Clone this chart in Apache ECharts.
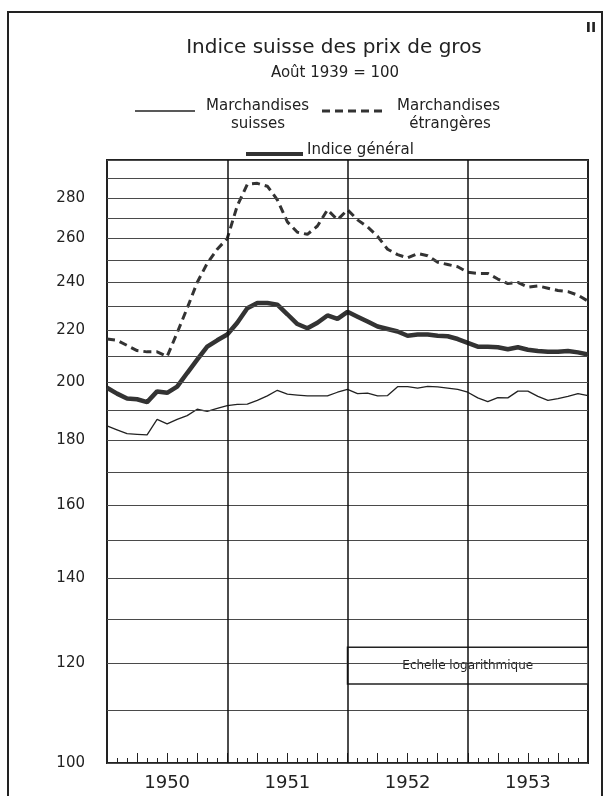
<!DOCTYPE html>
<html><head><meta charset="utf-8">
<script src="https://cdn.jsdelivr.net/npm/echarts@6/dist/echarts.min.js"></script>
<style>html,body{margin:0;padding:0;background:#fff;}#c{width:604px;height:796px;}</style>
</head><body><div id="c"></div>
<script>
// Month positions (end of Dec 1949 .. end of Dec 1953)
const months = ['1949-12','1950-01','1950-02','1950-03','1950-04','1950-05','1950-06','1950-07','1950-08','1950-09','1950-10','1950-11','1950-12',
  '1951-01','1951-02','1951-03','1951-04','1951-05','1951-06','1951-07','1951-08','1951-09','1951-10','1951-11','1951-12',
  '1952-01','1952-02','1952-03','1952-04','1952-05','1952-06','1952-07','1952-08','1952-09','1952-10','1952-11','1952-12',
  '1953-01','1953-02','1953-03','1953-04','1953-05','1953-06','1953-07','1953-08','1953-09','1953-10','1953-11','1953-12'];
const years = ['1950','1951','1952','1953'];

const suisses = [184.8,183.5,182.2,182.0,181.8,187.0,185.5,187.0,188.3,190.5,189.8,190.8,191.8,
  192.2,192.3,193.6,195.2,197.2,195.8,195.5,195.2,195.2,195.2,196.5,197.5,
  196.0,196.2,195.2,195.3,198.5,198.5,198.0,198.6,198.4,198.0,197.5,196.5,
  194.5,193.2,194.6,194.5,196.9,196.9,195.0,193.6,194.2,195.0,196.0,195.3];
const etrangeres = [216.5,216.0,214.0,212.0,211.5,211.5,209.7,219.0,229.0,240.0,248.5,255.0,260.0,
  276.0,287.0,287.5,286.0,279.0,268.0,263.0,262.0,266.0,274.0,269.0,274.0,
  269.0,265.6,261.0,255.0,252.5,251.0,253.0,252.0,249.0,248.0,247.0,244.5,
  244.0,244.0,241.5,239.5,240.0,238.0,238.5,237.5,236.5,236.0,234.5,232.0];
const general = [198.1,196.0,194.3,194.0,193.0,196.8,196.3,198.5,203.5,208.5,213.5,216.0,218.3,
  223.0,229.0,231.2,231.2,230.5,226.5,222.5,220.8,223.0,226.0,224.6,227.5,
  225.5,223.5,221.5,220.5,219.5,217.8,218.3,218.3,217.8,217.6,216.5,215.0,
  213.5,213.5,213.3,212.5,213.3,212.3,211.8,211.5,211.5,211.8,211.3,210.5];

const gridValues = [100,110,120,130,140,150,160,170,180,190,200,210,220,230,240,250,260,270,280,290,300];
const yTickLabels = [100,120,140,160,180,200,220,240,260,280];
const yearBoundaries = [12,24,36];

const FONT = 'DejaVu Sans';
const INK = '#222';

const toPairs = arr => arr.map((v, i) => [i, v]);

const gridLineData = gridValues.map(v => ({
  yAxis: v,
  lineStyle: {color: '#4a4a4a', width: 1, type: 'solid'},
  label: yTickLabels.includes(v)
    ? {show: true, position: 'start', distance: 22, formatter: String(v), color: INK, fontFamily: FONT, fontSize: 15}
    : {show: false}
}));
const yearLineData = yearBoundaries.map(x => ({
  xAxis: x, lineStyle: {color: '#111', width: 1.5, type: 'solid'}, label: {show: false}
}));

const chart = echarts.init(document.getElementById('c'), null, {renderer: 'canvas'});
chart.setOption({
  animation: false,
  backgroundColor: '#fff',
  grid: {left: 107, right: 16, top: 160, bottom: 33, show: true, borderColor: INK, borderWidth: 2, backgroundColor: 'transparent', containLabel: false, outerBoundsMode: 'none'},
  xAxis: {
    type: 'value', min: 0, max: 48, interval: 3,
    axisLine: {show: true, lineStyle: {color: INK, width: 2}},
    axisTick: {show: true, inside: true, length: 10, lineStyle: {color: INK, width: 1}},
    minorTick: {show: true, splitNumber: 3, length: 5, lineStyle: {color: INK, width: 1}},
    splitLine: {show: false},
    axisLabel: {
      show: true, margin: 11, color: INK, fontFamily: FONT, fontSize: 18,
      showMinLabel: true, showMaxLabel: true,
      formatter: v => (v % 12 === 6 ? years[(v - 6) / 12] : '')
    }
  },
  yAxis: {
    type: 'log', logBase: 10, min: 100, max: 300,
    axisLine: {show: false}, axisTick: {show: false}, axisLabel: {show: false}, splitLine: {show: false}
  },
  series: [
    {
      name: 'grid', type: 'line', data: [], z: 1, silent: true,
      markLine: {silent: true, symbol: ['none', 'none'], animation: false, data: gridLineData.concat(yearLineData)}
    },
    {
      name: 'Marchandises suisses', type: 'line', data: toPairs(suisses), z: 3,
      showSymbol: false, symbol: 'none', lineStyle: {color: INK, width: 1.3}
    },
    {
      name: 'Marchandises étrangères', type: 'line', data: toPairs(etrangeres), z: 3,
      showSymbol: false, symbol: 'none', lineStyle: {color: '#333', width: 3, type: [8, 5]}
    },
    {
      name: 'Indice général', type: 'line', data: toPairs(general), z: 3,
      showSymbol: false, symbol: 'none', lineStyle: {color: '#333', width: 4.5}
    },
    {
      name: 'box', type: 'line', data: [], z: 5, silent: true,
      markArea: {
        silent: true,
        itemStyle: {color: '#fff', borderColor: INK, borderWidth: 1.5},
        label: {show: true, position: 'inside', color: INK, fontFamily: FONT, fontSize: 12},
        data: [[{name: 'Echelle logarithmique', xAxis: 24, yAxis: 115.5}, {xAxis: 48, yAxis: 123.5}]]
      }
    }
  ],
  graphic: [
    {type: 'rect', shape: {x: 8, y: 12, width: 594, height: 800}, style: {fill: null, stroke: INK, lineWidth: 2}, silent: true},
    {type: 'text', x: 591, y: 28, style: {text: 'II', fontFamily: FONT, fontSize: 14, fontWeight: 'bold', fill: INK, textAlign: 'center', textVerticalAlign: 'middle'}},
    {type: 'text', x: 334, y: 48, style: {text: 'Indice suisse des prix de gros', fontFamily: FONT, fontSize: 20, fill: INK, textAlign: 'center', textVerticalAlign: 'middle'}},
    {type: 'text', x: 335, y: 73, style: {text: 'Août 1939 = 100', fontFamily: FONT, fontSize: 15, fill: INK, textAlign: 'center', textVerticalAlign: 'middle'}},
    {type: 'line', shape: {x1: 135, y1: 111, x2: 195, y2: 111}, style: {stroke: INK, lineWidth: 1.3}},
    {type: 'text', x: 206, y: 106, style: {text: 'Marchandises', fontFamily: FONT, fontSize: 15, fill: INK, textAlign: 'left', textVerticalAlign: 'middle'}},
    {type: 'text', x: 258, y: 124, style: {text: 'suisses', fontFamily: FONT, fontSize: 15, fill: INK, textAlign: 'center', textVerticalAlign: 'middle'}},
    {type: 'line', shape: {x1: 322, y1: 111, x2: 385, y2: 111}, style: {stroke: '#333', lineWidth: 3, lineDash: [8, 5]}},
    {type: 'text', x: 397, y: 106, style: {text: 'Marchandises', fontFamily: FONT, fontSize: 15, fill: INK, textAlign: 'left', textVerticalAlign: 'middle'}},
    {type: 'text', x: 450, y: 124, style: {text: 'étrangères', fontFamily: FONT, fontSize: 15, fill: INK, textAlign: 'center', textVerticalAlign: 'middle'}},
    {type: 'line', shape: {x1: 246, y1: 154, x2: 303, y2: 154}, style: {stroke: '#333', lineWidth: 4}},
    {type: 'text', x: 307, y: 150, style: {text: 'Indice général', fontFamily: FONT, fontSize: 15, fill: INK, textAlign: 'left', textVerticalAlign: 'middle'}}
  ]
});
</script>
</body></html>
